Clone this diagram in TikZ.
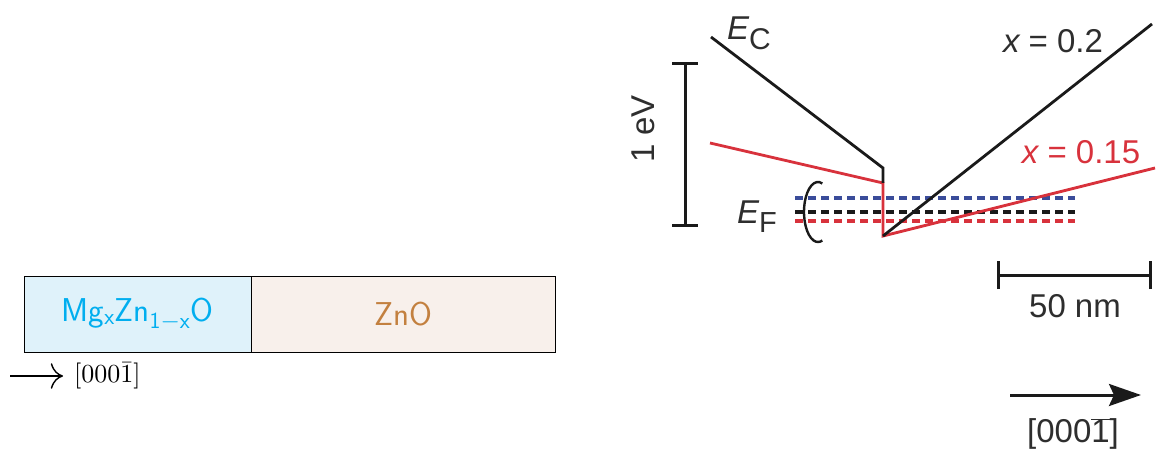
\documentclass[tikz,border=0pt]{standalone}
\usepackage{fontspec}
\newfontfamily\arial{Liberation Sans}
\usetikzlibrary{arrows.meta}
\definecolor{mgfill}{HTML}{DFF2FA}
\definecolor{znfill}{HTML}{F8F0EB}
\definecolor{mgtext}{HTML}{00AEEF}
\definecolor{zntext}{HTML}{C3803F}
\definecolor{bandred}{HTML}{D8323C}
\definecolor{bandblue}{HTML}{3A4C9A}
\definecolor{bandblack}{HTML}{1A1A1A}
\definecolor{labelgray}{HTML}{2E2E2E}
\tikzset{
  layerbox/.style={draw=black, line width=0.8pt, minimum height=76pt, inner sep=0pt},
  bandline/.style={line width=2.8pt, line join=miter, line cap=butt},
  fermi/.style={line width=3.2pt, dash pattern=on 8pt off 5pt},
  scalebar/.style={line width=3pt, color=bandblack},
  lab/.style={font=\arial\fontsize{33}{38}\selectfont, text=labelgray, inner sep=0pt},
}
\begin{document}
\begin{tikzpicture}[x=1pt,y=-1pt]
\useasboundingbox (0,0) rectangle (1156,454);
% left: layer stack
\node[layerbox, fill=mgfill, minimum width=227pt] (mg) at (137.5,314)
  {\color{mgtext}\fontsize{33}{40}\selectfont$\mathsf{Mg_xZn_{1-x}O}$};
\node[layerbox, fill=znfill, minimum width=304pt] (zn) at (403,314)
  {\color{zntext}\fontsize{33}{40}\selectfont\sffamily ZnO};
\node[anchor=west, inner sep=0pt] (dir) at (74,376) {\scalebox{2.6}{$[000\bar{1}]$}};
\coordinate (dir0) at (10,376);
\draw[line width=1.4pt, -{Computer Modern Rightarrow[scale=2.6]}] (dir0) -- ([xshift=-11pt]dir.west |- dir0);

% right: band diagram
\draw[fermi, bandblue] (795,198) coordinate (fb0) -- (1075,198) coordinate (fb1);
\draw[fermi, bandblack] (795,212) coordinate (fk0) -- (1075,212) coordinate (fk1);
\draw[fermi, bandred] (795,221) coordinate (fr0) -- (1075,221) coordinate (fr1);

\coordinate (ec0) at (711,37);
\coordinate (ec1) at (883,168);
\coordinate (ecm) at (883,183);
\coordinate (bot) at (883,236);
\coordinate (r02) at (1152,24);
\coordinate (rl0) at (710,143);
\coordinate (r15) at (1155,168);
\draw[bandline, bandred] (rl0) -- (ecm) -- (bot) -- (r15);
\draw[bandline, bandblack] (ec0) -- (ec1) -- (ecm);
\draw[bandline, bandblack] (bot) -- (r02);

% labels
\node[lab, anchor=base west] (ec) at (727,40) {\itshape E\upshape\raisebox{-10pt}{\fontsize{30}{32}\selectfont C}};
\node[lab, anchor=base west] (ef) at (737,224) {\itshape E\upshape\raisebox{-9pt}{\fontsize{29}{32}\selectfont F}};
\draw[line width=2.4pt, bandblack] (818,212) ++(72:14pt and 30pt) arc[start angle=72, end angle=288, x radius=14pt, y radius=30pt];
\node[lab] (x02) at (1053,41) {\itshape x\upshape\ = 0.2};
\node[lab, text=bandred] (x15) at (1081,152) {\itshape x\upshape\ = 0.15};

% 1 eV scale bar
\coordinate (ev0) at (685,64);
\coordinate (ev1) at (685,226);
\draw[scalebar] (ev0) -- (ev1);
\draw[scalebar] ([xshift=-13pt]ev0) -- ([xshift=13pt]ev0);
\draw[scalebar] ([xshift=-13pt]ev1) -- ([xshift=13pt]ev1);
\node[lab, rotate=90] (ev) at (643,129) {1 eV};

% 50 nm scale bar
\coordinate (nm0) at (998,276);
\coordinate (nm1) at (1150,276);
\draw[scalebar] (nm0) -- (nm1);
\draw[scalebar] ([yshift=-13pt]nm0) -- ([yshift=15pt]nm0);
\draw[scalebar] ([yshift=-13pt]nm1) -- ([yshift=15pt]nm1);
\node[lab] (nm) at (1075,306) {50 nm};

% direction arrow
\coordinate (da0) at (1010,395);
\coordinate (da1) at (1141,395);
\draw[line width=3pt, bandblack, -{Stealth[length=32pt, width=22pt, inset=5pt]}] (da0) -- (da1);
\node[lab] (dl) at (1073,434) {[000$\overline{\mbox{\arial 1}}$]};
\end{tikzpicture}
\end{document}
